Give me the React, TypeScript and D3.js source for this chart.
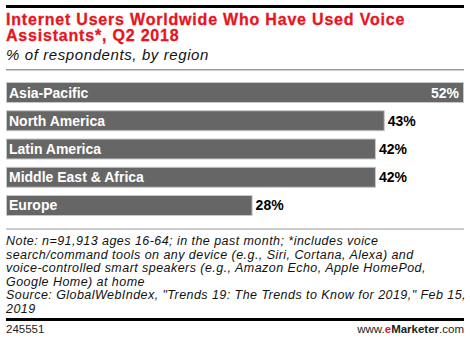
import React from "react";
import * as d3 from "d3";

const categories = ["Asia-Pacific", "North America", "Latin America", "Middle East & Africa", "Europe"];
const values = [52, 43, 42, 42, 28];
const titleLines = ["Internet Users Worldwide Who Have Used Voice", "Assistants*, Q2 2018"];
const subtitle = "% of respondents, by region";
const noteLines = [
  "Note: n=91,913 ages 16-64; in the past month; *includes voice",
  "search/command tools on any device (e.g., Siri, Cortana, Alexa) and",
  "voice-controlled smart speakers (e.g., Amazon Echo, Apple HomePod,",
  "Google Home) at home",
  "Source: GlobalWebIndex, \"Trends 19: The Trends to Know for 2019,\" Feb 15,",
  "2019",
];
const chartId = "245551";

const W = 470;
const H = 342;
const FONT = "'Liberation Sans', Arial, sans-serif";

export default function App() {
  const x = d3.scaleLinear().domain([0, 52]).range([6, 464]);
  const y = d3.scaleBand<string>().domain(categories).range([82, 216]).paddingInner(0.2566).paddingOuter(0);
  const bw = y.bandwidth();
  return (
    <svg width={W} height={H} style={{ position: "absolute", left: 0, top: 0, fontFamily: FONT }}>
      <rect x={0} y={0} width={W} height={H} fill="#fff" />
      <rect x={6} y={5} width={458} height={3} fill="#000" />
      {titleLines.map((t, i) => (
        <text key={i} x={6} y={24.5 + i * 16.5} fill="#e8141e" fontSize={16} fontWeight="bold" letterSpacing={0.8} stroke="#e8141e" strokeWidth={0.3}>{t}</text>
      ))}
      <text x={6} y={60} fill="#111" fontSize={15} fontStyle="italic" letterSpacing={0.6}>{subtitle}</text>
      <rect x={6} y={69} width={458} height={1.5} fill="#999" />
      {categories.map((c, i) => {
        const v = values[i];
        const y0 = y(c)!;
        const x1 = x(v);
        const inside = i === 0;
        return (
          <g key={c}>
            <rect x={x(0) + 0.5} y={y0 + 0.5} width={x1 - x(0) - 1} height={bw - 1} fill="#666" stroke="#c8c8c8" strokeWidth={1} />
            <text x={9} y={y0 + bw / 2 + 5} fill="#fff" fontSize={14} fontWeight="bold">{c}</text>
            <text
              x={inside ? x1 - 5 : x1 + 3}
              y={y0 + bw / 2 + 5}
              fill={inside ? "#fff" : "#000"}
              fontSize={14}
              fontWeight="bold"
              textAnchor={inside ? "end" : "start"}
            >{v}%</text>
          </g>
        );
      })}
      <rect x={6} y={228.5} width={458} height={1} fill="#999" />
      {noteLines.map((t, i) => (
        <text key={i} x={6} y={245 + i * 13.5} fill="#111" fontSize={12.5} fontStyle="italic" letterSpacing={0.45}>{t}</text>
      ))}
      <rect x={6} y={318} width={458} height={3} fill="#000" />
      <text x={6} y={333} fill="#222" fontSize={11.5}>{chartId}</text>
      <text x={464} y={333} fontSize={11.5} textAnchor="end" fill="#222">
        <tspan>www.</tspan>
        <tspan fill="#e8141e" fontWeight="bold">e</tspan>
        <tspan fontWeight="bold">Marketer</tspan>
        <tspan>.com</tspan>
      </text>
    </svg>
  );
}
